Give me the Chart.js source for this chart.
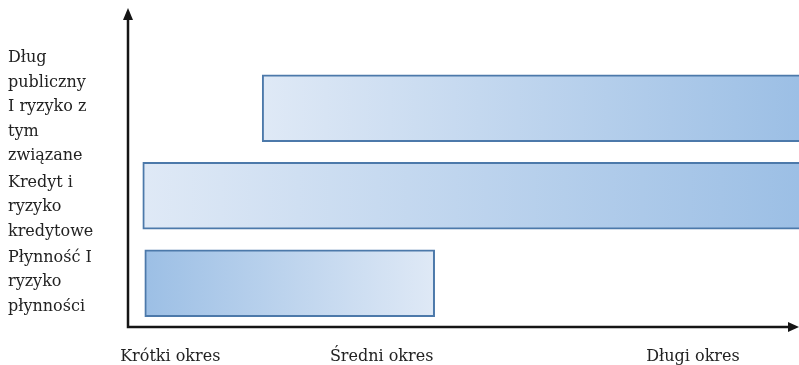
<!DOCTYPE html>
<html>
<head>
<meta charset="utf-8">
<script src="https://cdn.jsdelivr.net/npm/chart.js@4"></script>
<style>
  html, body { margin: 0; padding: 0; background: #fff; }
  #wrap { width: 799px; height: 365px; }
</style>
</head>
<body>
<div id="wrap"><canvas id="riskChart"></canvas></div>
<script>
// categories (top to bottom)
const categories = [
  ["Dług", "publiczny", "I ryzyko z", "tym", "związane"],
  ["Kredyt i", "ryzyko", "kredytowe"],
  ["Płynność I", "ryzyko", "płynności"]
];
// horizon covered by each risk, on a 0-100 time scale
const spanStart = [20, 2.2, 2.5];
const spanEnd = [102, 102, 45.7];
// time axis labels and where they sit
const periodLabels = ["Krótki okres", "Średni okres", "Długi okres"];
const periodValues = [6.3, 37.8, 84.2];

document.addEventListener("DOMContentLoaded", () => {
  const canvas = document.getElementById("riskChart");
  const ctx = canvas.getContext("2d");

  const light = "#dfe9f6";
  const dark = "#9cbfe5";
  // last bar fades the other way
  const fadeLeft = [false, false, true];

  const barFill = (c) => {
    const chart = c.chart;
    const x = chart.scales.x;
    if (!chart.chartArea || !x || c.dataIndex === undefined) return light;
    const i = c.dataIndex;
    const x0 = x.getPixelForValue(spanStart[i]);
    const x1 = Math.min(x.getPixelForValue(spanEnd[i]), chart.chartArea.right);
    const g = chart.ctx.createLinearGradient(x0, 0, x1, 0);
    g.addColorStop(0, fadeLeft[i] ? dark : light);
    g.addColorStop(1, fadeLeft[i] ? light : dark);
    return g;
  };

  // black axes with arrow heads
  const arrowAxes = {
    id: "arrowAxes",
    afterDraw(chart) {
      const { ctx, chartArea: a } = chart;
      ctx.save();
      ctx.strokeStyle = "#151515";
      ctx.fillStyle = "#151515";
      ctx.lineWidth = 2.5;
      ctx.beginPath();
      ctx.moveTo(a.left, 18);
      ctx.lineTo(a.left, a.bottom);
      ctx.lineTo(a.right - 8, a.bottom);
      ctx.stroke();
      ctx.beginPath();
      ctx.moveTo(a.left, 8);
      ctx.lineTo(a.left - 5, 20);
      ctx.lineTo(a.left + 5, 20);
      ctx.closePath();
      ctx.fill();
      ctx.beginPath();
      ctx.moveTo(a.right, a.bottom);
      ctx.lineTo(a.right - 11, a.bottom - 5);
      ctx.lineTo(a.right - 11, a.bottom + 5);
      ctx.closePath();
      ctx.fill();
      ctx.restore();
    }
  };

  new Chart(ctx, {
    type: "bar",
    data: {
      labels: categories,
      datasets: [{
        data: spanStart.map((s, i) => [s, spanEnd[i]]),
        backgroundColor: barFill,
        borderColor: "#4c79aa",
        borderWidth: 2,
        borderSkipped: false,
        barThickness: 67
      }]
    },
    options: {
      indexAxis: "y",
      responsive: true,
      maintainAspectRatio: false,
      animation: false,
      layout: { padding: { left: 8, top: 64.5, right: 0, bottom: 0 } },
      plugins: {
        legend: { display: false },
        tooltip: { enabled: false }
      },
      scales: {
        x: {
          type: "linear",
          min: 0,
          max: 100,
          border: { display: false },
          grid: { display: false, drawTicks: false },
          afterBuildTicks: (s) => { s.ticks = periodValues.map(v => ({ value: v })); },
          afterFit: (s) => { s.height = 38; s.paddingLeft = 0; s.paddingRight = 0; },
          ticks: {
            autoSkip: false,
            maxRotation: 0,
            padding: 20,
            color: "#222",
            font: { family: "DejaVu Serif", size: 16 },
            callback: (v, i) => periodLabels[i]
          }
        },
        y: {
          border: { display: false },
          grid: { display: false, drawTicks: false },
          afterFit: (s) => { s.width = 120; s.paddingTop = 0; s.paddingBottom = 0; },
          ticks: {
            autoSkip: false,
            crossAlign: "far",
            labelOffset: -1,
            color: "#222",
            font: { family: "DejaVu Serif", size: 16, lineHeight: 1.53 },
            // middle block sits a line lower in the original
            callback: (v, i) => i === 1 ? [""].concat(categories[i]) : categories[i]
          }
        }
      }
    },
    plugins: [arrowAxes]
  });
});
</script>
</body>
</html>
